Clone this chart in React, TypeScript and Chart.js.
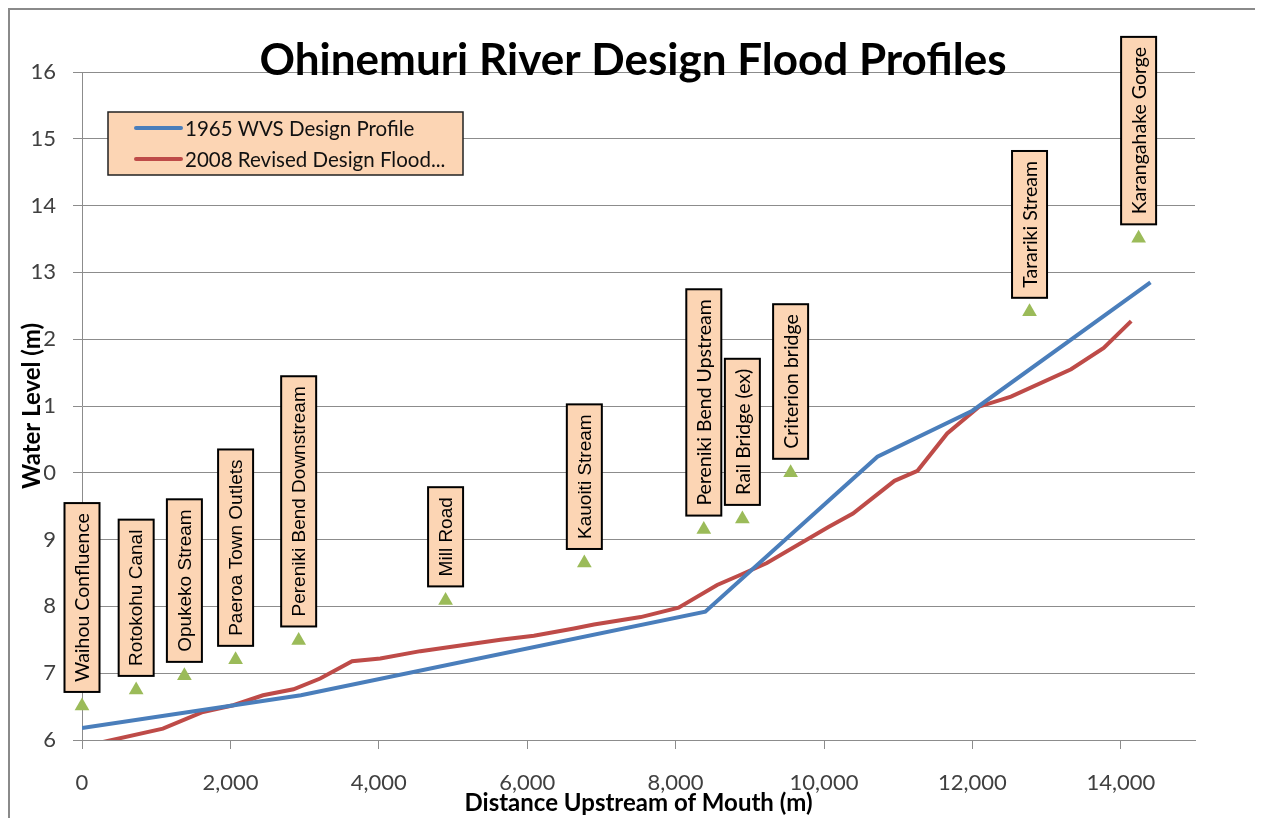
import React, { useEffect, useRef } from 'react';
import { Chart, registerables } from 'chart.js';

Chart.register(...registerables);

// ---- Data ----
const chartTitle = 'Ohinemuri River Design Flood Profiles';
const xAxisTitle = 'Distance Upstream of Mouth (m)';
const yAxisTitle = 'Water Level (m)';

const seriesLabels = ['1965 WVS Design Profile', '2008 Revised Design Flood...'];

const profile1965X = [0, 2950, 8400, 10720, 12000, 14400];
const profile1965Y = [6.18, 6.67, 7.92, 10.24, 10.93, 12.85];

const revised2008X = [0, 1090, 1630, 2040, 2440, 2850, 3210, 3640, 4020, 4560, 5640, 6090, 6630, 6900, 7530, 8040, 8560, 8870, 9230, 10060, 10390, 10950, 11260, 11660, 12090, 12520, 13330, 13770, 14140];
const revised2008Y = [5.9, 6.17, 6.42, 6.52, 6.67, 6.76, 6.92, 7.18, 7.22, 7.33, 7.5, 7.56, 7.67, 7.73, 7.84, 7.98, 8.32, 8.47, 8.65, 9.19, 9.39, 9.88, 10.03, 10.59, 10.99, 11.14, 11.55, 11.87, 12.27];

const siteNames = [
  'Waihou Confluence',
  'Rotokohu Canal',
  'Opukeko Stream',
  'Paeroa Town Outlets',
  'Pereniki Bend Downstream',
  'Mill Road',
  'Kauoiti Stream',
  'Pereniki Bend Upstream',
  'Rail Bridge (ex)',
  'Criterion bridge',
  'Tarariki Stream',
  'Karangahake Gorge',
];
const siteX = [0, 730, 1380, 2070, 2920, 4900, 6770, 8380, 8900, 9550, 12770, 14240];
const siteY = [6.51, 6.75, 6.96, 7.2, 7.49, 8.09, 8.65, 9.15, 9.31, 10.0, 12.41, 13.51];

// label font style per site (C = calibri-like, A = arial-like)
const siteFontKind = ['C', 'A', 'A', 'A', 'A', 'A', 'A', 'C', 'C', 'C', 'C', 'C'];

const xTickMin = 0;
const xTickMax = 15000;
const xTickStep = 2000;
const xTickLast = 14000;
const yTickMin = 6;
const yTickMax = 16;
const yTickStep = 1;

// ---- Styles ----
const BLUE = '#4A7EBB';
const RED = '#BE4B48';
const GREEN = '#9BBB59';
const PEACH = '#FCD5B4';
const GRID = '#8c8c8c';
const TICK_TEXT = '#404040';
const CAL = 'Lato, "Open Sans", sans-serif';
const ARI = '"Liberation Sans", Arial, sans-serif';

const overlayPlugin = {
  id: 'overlay',
  afterDatasetsDraw(chart: any) {
    const ctx = chart.ctx as CanvasRenderingContext2D;
    const area = chart.chartArea;

    // site labels
    const meta = chart.getDatasetMeta(2);
    ctx.save();
    meta.data.forEach((pt: any, i: number) => {
      const name = siteNames[i];
      ctx.font = siteFontKind[i] === 'A' ? `19px ${ARI}` : `19.5px ${CAL}`;
      const tw = ctx.measureText(name).width;
      const h = tw + 20;
      const w = 35;
      const bottom = pt.y - 14;
      const top = bottom - h;
      ctx.fillStyle = PEACH;
      ctx.fillRect(pt.x - w / 2, top, w, h);
      ctx.strokeStyle = '#000';
      ctx.lineWidth = 2;
      ctx.strokeRect(pt.x - w / 2, top, w, h);
      ctx.save();
      ctx.translate(pt.x, (top + bottom) / 2);
      ctx.rotate(-Math.PI / 2);
      ctx.fillStyle = '#000';
      ctx.textAlign = 'center';
      ctx.textBaseline = 'middle';
      ctx.fillText(name, 0, 1);
      ctx.restore();
    });
    ctx.restore();

    // legend
    ctx.save();
    const bx = area.left + 26;
    const by = area.top + 40;
    ctx.fillStyle = PEACH;
    ctx.fillRect(bx, by, 355, 63);
    ctx.strokeStyle = '#222';
    ctx.lineWidth = 1.5;
    ctx.strokeRect(bx, by, 355, 63);
    [0, 1].forEach((i) => {
      const ds = chart.data.datasets[i];
      const ry = by + 16 + i * 31;
      ctx.strokeStyle = ds.borderColor;
      ctx.lineWidth = 4;
      ctx.lineCap = 'round';
      ctx.beginPath();
      ctx.moveTo(bx + 28, ry);
      ctx.lineTo(bx + 73, ry);
      ctx.stroke();
      ctx.fillStyle = '#111';
      ctx.font = `20.5px ${CAL}`;
      ctx.textAlign = 'left';
      ctx.textBaseline = 'middle';
      ctx.fillText(ds.label, bx + 77, ry + 1);
    });
    ctx.restore();

    // title
    ctx.save();
    ctx.fillStyle = '#000';
    ctx.font = `bold 44px ${CAL}`;
    ctx.textAlign = 'center';
    ctx.textBaseline = 'alphabetic';
    ctx.fillText(chartTitle, chart.width / 2, 65);
    ctx.restore();

    // axis titles
    ctx.save();
    ctx.fillStyle = '#000';
    ctx.font = `bold 24px ${CAL}`;
    ctx.textAlign = 'center';
    ctx.textBaseline = 'middle';
    ctx.fillText(xAxisTitle, (area.left + area.right) / 2, 793);
    ctx.translate(22, (area.top + area.bottom) / 2);
    ctx.rotate(-Math.PI / 2);
    const yw = ctx.measureText(yAxisTitle).width;
    ctx.fillStyle = '#fff';
    ctx.fillRect(-yw / 2 - 2, -12, yw + 4, 24);
    ctx.fillStyle = '#000';
    ctx.fillText(yAxisTitle, 0, 0);
    ctx.restore();
  },
};

export default function App() {
  const ref = useRef<HTMLCanvasElement>(null);

  useEffect(() => {
    if (!ref.current) return;
    const chart = new Chart(ref.current, {
      type: 'scatter',
      data: {
        datasets: [
          {
            label: seriesLabels[0],
            data: profile1965X.map((x, i) => ({ x, y: profile1965Y[i] })),
            showLine: true,
            borderColor: BLUE,
            backgroundColor: BLUE,
            borderWidth: 4,
            pointRadius: 0,
            clip: 0,
          },
          {
            label: seriesLabels[1],
            data: revised2008X.map((x, i) => ({ x, y: revised2008Y[i] })),
            showLine: true,
            borderColor: RED,
            backgroundColor: RED,
            borderWidth: 4,
            pointRadius: 0,
            clip: 0,
          },
          {
            label: 'Sites',
            data: siteX.map((x, i) => ({ x, y: siteY[i] })),
            showLine: false,
            pointStyle: 'triangle',
            pointRadius: 8.5,
            borderWidth: 0,
            backgroundColor: GREEN,
            borderColor: GREEN,
            clip: false,
          },
        ],
      } as any,
      options: {
        animation: false,
        responsive: false,
        layout: { padding: { left: 0, right: 61, top: 62, bottom: 0 } },
        plugins: {
          legend: { display: false },
          title: { display: false },
          tooltip: { enabled: false },
        },
        scales: {
          x: {
            type: 'linear',
            min: xTickMin,
            max: xTickMax,
            afterFit: (s: any) => {
              s.height = 78;
            },
            afterBuildTicks: (s: any) => {
              const t = [];
              for (let v = xTickMin; v <= xTickLast; v += xTickStep) t.push({ value: v });
              s.ticks = t;
            },
            ticks: {
              color: TICK_TEXT,
              font: { family: CAL, size: 22 },
              padding: 21,
              maxRotation: 0,
              autoSkip: false,
              callback: (v: any) => Number(v).toLocaleString('en-US'),
            },
            grid: { drawOnChartArea: false, tickLength: 9, color: GRID, lineWidth: 1 },
            border: { color: GRID, width: 1 },
          },
          y: {
            type: 'linear',
            min: yTickMin,
            max: yTickMax,
            afterFit: (s: any) => {
              s.width = 72;
            },
            ticks: {
              stepSize: yTickStep,
              color: TICK_TEXT,
              font: { family: CAL, size: 22 },
              padding: 17,
            },
            grid: { tickLength: 9, color: GRID, lineWidth: 1 },
            border: { color: GRID, width: 1 },
          },
        },
      } as any,
      plugins: [overlayPlugin],
    });
    return () => chart.destroy();
  }, []);

  return (
    <div
      style={{
        width: 1250,
        height: 812,
        border: '2px solid #8a8a8a',
        boxSizing: 'border-box',
        background: '#fff',
      }}
    >
      <canvas ref={ref} width={1246} height={808} style={{ display: 'block', width: 1246, height: 808 }} />
    </div>
  );
}
